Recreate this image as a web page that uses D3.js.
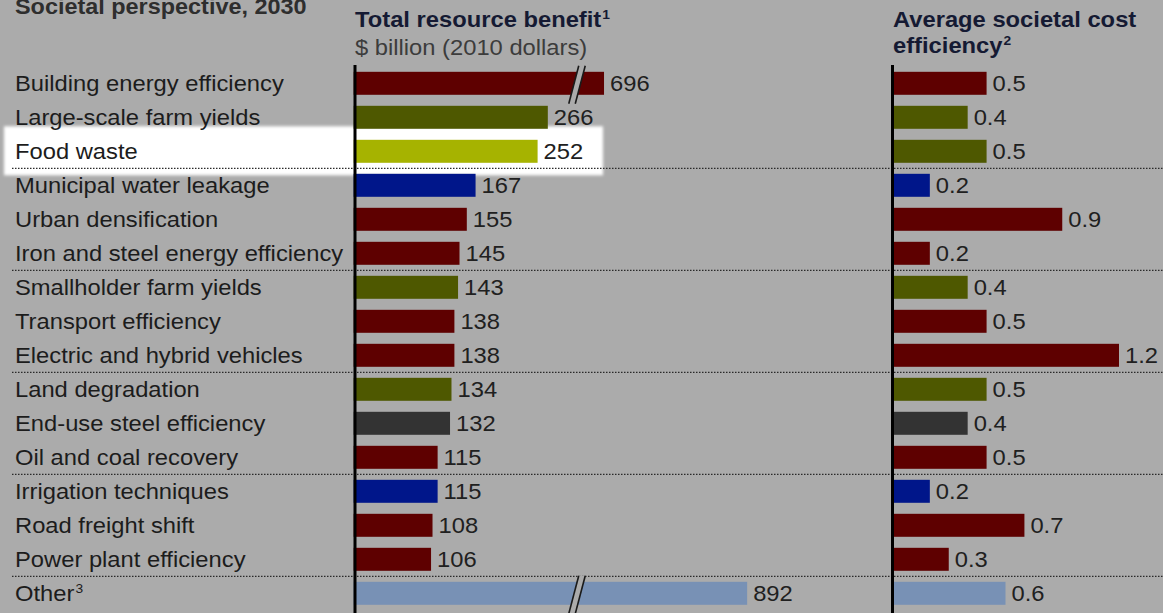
<!DOCTYPE html>
<html>
<head>
<meta charset="utf-8">
<script src="https://cdn.jsdelivr.net/npm/d3@7"></script>
<style>
  html, body { margin: 0; padding: 0; background: #ababab; }
  svg { display: block; }
  text { font-family: "Liberation Sans", Arial, sans-serif; }
</style>
</head>
<body>
<svg id="chart" width="1163" height="613"></svg>
<script>
// Resource productivity levers, societal perspective, 2030
const categories = [
  "Building energy efficiency", "Large-scale farm yields", "Food waste",
  "Municipal water leakage", "Urban densification", "Iron and steel energy efficiency",
  "Smallholder farm yields", "Transport efficiency", "Electric and hybrid vehicles",
  "Land degradation", "End-use steel efficiency", "Oil and coal recovery",
  "Irrigation techniques", "Road freight shift", "Power plant efficiency", "Other"
];
// Total resource benefit, $ billion (2010 dollars)
const benefit = [696, 266, 252, 167, 155, 145, 143, 138, 138, 134, 132, 115, 115, 108, 106, 892];
// Average societal cost efficiency
const costEfficiency = [0.5, 0.4, 0.5, 0.2, 0.9, 0.2, 0.4, 0.5, 1.2, 0.5, 0.4, 0.5, 0.2, 0.7, 0.3, 0.6];
const sectors = ["energy", "land", "land", "water", "energy", "energy", "land", "energy",
                 "energy", "land", "steel", "energy", "water", "energy", "energy", "other"];
const footnotes = {"Other": "3"};
const highlighted = "Food waste";
// hidden stretch of the benefit axis (values between these are cut out)
const axisBreak = [306, 659];

const sectorColor = {
  energy: "#5e0000", land: "#4e5800", water: "#00168a", steel: "#333333", other: "#7891b5"
};
const highlightColor = "#a6b300";
const bg = "#ababab";
const fontSize = 21.5;
const stretch = 1.105;

const svg = d3.select("#chart");

const y = d3.scaleBand().domain(categories).range([66.3, 610.3])
  .paddingInner(0.324).paddingOuter(0.162);
const xLeft = d3.scaleLinear()
  .domain([0, axisBreak[0], axisBreak[1], 1000])
  .range([353.7, 577, 577, 826]);
const xRight = d3.scaleLinear().domain([0, 1.2]).range([892, 1119]);

const rows = categories.map((c, i) => ({
  cat: c, benefit: benefit[i], eff: costEfficiency[i], sector: sectors[i]
}));

// text helper with slight horizontal stretch
function addText(g, x, yPos, opts) {
  const size = opts.size || fontSize;
  const t = g.append("text")
    .attr("transform", `translate(${x},${yPos}) scale(${opts.stretch || stretch},1)`)
    .attr("font-size", size)
    .attr("font-weight", opts.weight || "normal")
    .attr("fill", opts.fill || "#1c1c1c");
  t.append("tspan").text(opts.text);
  if (opts.sup) {
    t.append("tspan").attr("font-size", size * 0.58)
      .attr("dx", 1).attr("dy", -size * 0.38).text(opts.sup);
  }
  return t;
}

// highlight band behind the food waste row
const defs = svg.append("defs");
defs.append("filter").attr("id", "soft")
  .attr("x", "-5%").attr("y", "-30%").attr("width", "110%").attr("height", "160%")
  .append("feGaussianBlur").attr("stdDeviation", 1.6);
const hy = y(highlighted) + y.bandwidth() / 2;
svg.append("rect")
  .attr("x", 4).attr("y", hy - 25).attr("width", 599).attr("height", 49)
  .attr("fill", "#ffffff").attr("filter", "url(#soft)");

// dotted separators after every third row
const step = y.step();
const sepRows = categories.filter((c, i) => i % 3 === 2 && i < categories.length - 1);
svg.append("g").selectAll("line").data(sepRows).join("line")
  .attr("x1", 12).attr("x2", 1163)
  .attr("y1", d => y(d) + y.bandwidth() + (step - y.bandwidth()) / 2)
  .attr("y2", d => y(d) + y.bandwidth() + (step - y.bandwidth()) / 2)
  .attr("stroke", "#2a2a2a").attr("stroke-width", 1.2)
  .attr("stroke-dasharray", "1.5,1.5");

// titles
const head = svg.append("g");
addText(head, 15, 14, {text: "Societal perspective, 2030", weight: "bold", fill: "#2e2e2e", stretch: 1.09});
addText(head, 355, 27, {text: "Total resource benefit", weight: "bold", fill: "#151a33", sup: "1"});
addText(head, 355, 55, {text: "$ billion (2010 dollars)", fill: "#3c3c3c"});
addText(head, 893, 27, {text: "Average societal cost", weight: "bold", fill: "#151a33"});
addText(head, 893, 53, {text: "efficiency", weight: "bold", fill: "#151a33", sup: "2"});

// row labels
const labels = svg.append("g");
rows.forEach(r => {
  addText(labels, 15, y(r.cat) + y.bandwidth() / 2 + 8,
    {text: r.cat, sup: footnotes[r.cat]});
});

// left panel bars
const left = svg.append("g");
left.selectAll("rect").data(rows).join("rect")
  .attr("x", xLeft(0)).attr("y", d => y(d.cat))
  .attr("width", d => xLeft(d.benefit) - xLeft(0))
  .attr("height", y.bandwidth())
  .attr("fill", d => d.cat === highlighted ? highlightColor : sectorColor[d.sector]);

// break marks on bars that exceed the cut
const bx = xLeft(axisBreak[0]);
rows.filter(d => d.benefit > axisBreak[1]).forEach(d => {
  const top = y(d.cat) - 6, bot = y(d.cat) + y.bandwidth() + 9;
  const lean = 5, gap = 6.5;
  const x0 = bx - gap / 2;
  left.append("polygon")
    .attr("points", [[x0 - lean, bot], [x0 + lean, top], [x0 + gap + lean, top], [x0 + gap - lean, bot]]
      .map(p => p.join(",")).join(" "))
    .attr("fill", bg);
  [0, gap].forEach(o => {
    left.append("line")
      .attr("x1", x0 + o - lean).attr("y1", bot)
      .attr("x2", x0 + o + lean).attr("y2", top)
      .attr("stroke", "#1a1a1a").attr("stroke-width", 1.6);
  });
});

rows.forEach(r => {
  addText(left, xLeft(r.benefit) + 6, y(r.cat) + y.bandwidth() / 2 + 8,
    {text: d3.format("d")(r.benefit), fill: "#202020"});
});

// right panel bars
const right = svg.append("g");
right.selectAll("rect").data(rows).join("rect")
  .attr("x", xRight(0)).attr("y", d => y(d.cat))
  .attr("width", d => xRight(d.eff) - xRight(0))
  .attr("height", y.bandwidth())
  .attr("fill", d => sectorColor[d.sector]);
rows.forEach(r => {
  addText(right, xRight(r.eff) + 6, y(r.cat) + y.bandwidth() / 2 + 8,
    {text: d3.format(".1f")(r.eff), fill: "#202020"});
});

// vertical axis lines
[xLeft(0) + 1.3, xRight(0) + 0.5].forEach(x => {
  svg.append("line").attr("x1", x).attr("x2", x)
    .attr("y1", 65).attr("y2", 613)
    .attr("stroke", "#000").attr("stroke-width", 3);
});
</script>
</body>
</html>
